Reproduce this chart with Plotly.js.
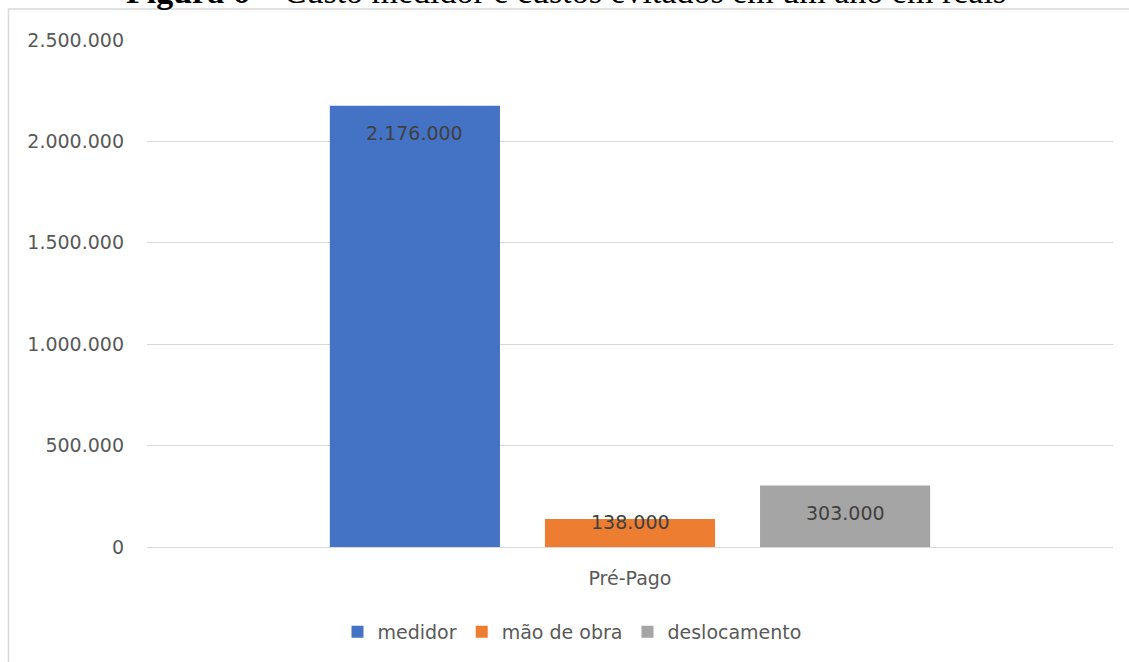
<!DOCTYPE html>
<html>
<head>
<meta charset="utf-8">
<script src="https://cdn.plot.ly/plotly-3.0.1.min.js"></script>
<style>
  html, body { margin: 0; padding: 0; background: #ffffff; }
  #chart { width: 1129px; height: 662px; }
</style>
</head>
<body>
<div id="chart"></div>
<script>
const categories = ["Pré-Pago"];
const seriesNames = ["medidor", "mão de obra", "deslocamento"];
const seriesValues = [[2176000], [138000], [303000]];
const seriesColors = ["#4472C4", "#ED7D31", "#A5A5A5"];
const tickValues = [0, 500000, 1000000, 1500000, 2000000, 2500000];
const tickLabels = ["0", "500.000", "1.000.000", "1.500.000", "2.000.000", "2.500.000"];
const titleText = "<b>Figura 6</b> – Custo medidor e custos evitados em um ano em reais";

function fmt(v) {
  return String(v).replace(/\B(?=(\d{3})+(?!\d))/g, ".");
}

const FONT = "DejaVu Sans, Noto Sans, sans-serif";
const FS = 19;

const W = 1129, H = 662;
const margin = {l: 147, r: 16, t: 40, b: 114};
const plotH = H - margin.t - margin.b;
const pw = W - margin.l - margin.r;
const yMax = 2500000;
const pxPerUnit = plotH / yMax;
const bx = (px) => (px - margin.l) / pw;
const by = (py) => (H - margin.b - py) / plotH;

const traces = seriesNames.map((name, i) => ({
  type: "bar",
  name: name,
  x: categories,
  y: seriesValues[i],
  marker: {color: seriesColors[i]},
  hoverinfo: "skip"
}));

const bargap = 0.332;
const slot = (1 - bargap) / seriesNames.length;
const annotations = [];
seriesNames.forEach((name, i) => {
  seriesValues[i].forEach((v, j) => {
    const barPx = v * pxPerUnit;
    const offset = -(1 - bargap) / 2 + slot * (i + 0.5);
    annotations.push({
      x: j + offset, xref: "x",
      y: v, yref: "y",
      yanchor: "middle",
      yshift: (barPx > 56) ? -27 : -(barPx - 25),
      text: fmt(v),
      showarrow: false,
      font: {family: FONT, size: FS, color: "#404040"}
    });
  });
});

annotations.push({
  xref: "paper", yref: "paper",
  x: bx(566),
  y: by(12),
  xanchor: "center", yanchor: "bottom",
  text: titleText,
  showarrow: false,
  font: {family: "Liberation Serif, Times New Roman, serif", size: 34, color: "#000000"}
});

const layout = {
  width: W, height: H,
  margin: margin,
  paper_bgcolor: "#ffffff",
  plot_bgcolor: "#ffffff",
  barmode: "group",
  bargap: bargap,
  bargroupgap: 0.209,
  showlegend: true,
  legend: {
    orientation: "h",
    x: bx(572), xanchor: "center",
    y: by(651), yanchor: "bottom",
    font: {family: FONT, size: FS, color: "#595959"},
    itemwidth: 30,
    tracegroupgap: 0
  },
  xaxis: {
    type: "category",
    showgrid: false,
    zeroline: false,
    showline: false,
    ticks: "",
    tickfont: {family: FONT, size: FS, color: "#595959"},
    ticklabelstandoff: 18
  },
  yaxis: {
    range: [0, yMax],
    tickvals: tickValues,
    ticktext: tickLabels,
    showgrid: true,
    gridcolor: "#d9d9d9",
    gridwidth: 1,
    zeroline: true,
    zerolinecolor: "#d9d9d9",
    zerolinewidth: 1,
    showline: false,
    ticks: "",
    ticklabelstandoff: 22,
    tickfont: {family: FONT, size: FS, color: "#595959"}
  },
  annotations: annotations,
  shapes: [{
    type: "path",
    xref: "paper", yref: "paper",
    path: `M ${bx(8.5)} ${by(700)} L ${bx(8.5)} ${by(9)} L ${bx(1200)} ${by(9)}`,
    line: {color: "#d9d9d9", width: 1.5},
    layer: "below"
  }]
};

Plotly.newPlot("chart", traces, layout, {displayModeBar: false, staticPlot: true});
</script>
</body>
</html>
